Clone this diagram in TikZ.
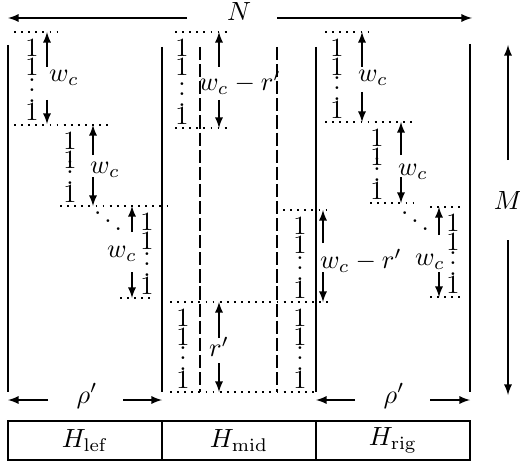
\documentclass[tikz,border=0pt]{standalone}
\usepackage{amsmath,amssymb}
\usepackage{tikz}
\usetikzlibrary{calc, positioning, arrows}
\newcommand{\onescol}[4]{%
  \node[digit] (#1a) at (#2,#3+16) {$1$};
  \node[digit] (#1b) at (#2,#3+35) {$1$};
  \node[digit,anchor=south] (#1c) at (#2,#4-21) {$\vdots$};
  \node[digit] (#1d) at (#2,#4-12) {$1$};
}
\newcommand{\dimarr}[8]{%
  \coordinate (#1t) at (#2,#3);
  \coordinate (#1u) at (#2,#4);
  \coordinate (#1d) at (#2,#5);
  \coordinate (#1b) at (#2,#6);
  \draw[dim] (#1u) -- (#1t);
  \draw[dim] (#1d) -- (#1b);
  \node (#1) at (#7) {#8};
}

\begin{document}
\begin{tikzpicture}[x=0.38pt, y=-0.38pt,
  digit/.style={inner sep=0pt},
  dim/.style={-latex},
  dotline/.style={dash pattern=on 0.7pt off 2pt},
  dashline/.style={dash pattern=on 5pt off 1.5pt},
  cell/.style={draw, minimum width=58.52pt, minimum height=14.82pt, inner sep=0pt, outer sep=0pt}]
  \useasboundingbox (0,0) rectangle (520,465);

  % sizes N and M
  \node (N) at (239,12) {$N$};
  \coordinate (Na) at (187,18); \coordinate (Nl) at (8,18);
  \coordinate (Nb) at (277,18); \coordinate (Nr) at (472,18);
  \draw[dim] (Na) -- (Nl);
  \draw[dim] (Nb) -- (Nr);
  \node (M) at (508,201) {$M$};
  \coordinate (Ma) at (508,160); \coordinate (Mt) at (508,45);
  \coordinate (Mb) at (508,240); \coordinate (Md) at (508,395);
  \draw[dim] (Ma) -- (Mt);
  \draw[dim] (Mb) -- (Md);

  % borders of the three parts
  \draw (8,45) -- (8,392) (162,47) -- (162,392) (316,47) -- (316,392) (470,44) -- (470,392);
  \draw[dashline] (200,47) -- (200,392) (277,47) -- (277,392);

  % left part
  \draw[dotline] (14,32) -- (57,32) (14,125) -- (113,125) (60,206) -- (173,206) (120,298) -- (155,298);
  \onescol{l1}{32}{32}{124}
  \onescol{l2}{70}{125}{206}
  \onescol{l3}{147}{206}{298}
  \dimarr{wl1}{47}{32}{67}{100}{124}{64,78}{$w_c$}
  \dimarr{wl2}{93}{125}{155}{177}{206}{105,170}{$w_c$}
  \dimarr{wl3}{132}{206}{232}{272}{298}{122,254}{$w_c$}
  \node[digit,anchor=base] (ddl) at (108,233) {$\ddots$};

  % middle part
  \draw[dotline] (175,32) -- (230,32) (175,128) -- (230,128) (283,210) -- (330,210) (170,302) -- (330,302) (170,392) -- (316,392);
  \onescol{m1}{182}{32}{128}
  \onescol{m2}{183}{302}{392}
  \onescol{m3}{300}{210}{302}
  \onescol{m4}{300}{302}{392}
  \dimarr{wm1}{219}{32}{67}{100}{128}{240,83}{$w_c-r'$}
  \dimarr{rm}{219}{302}{338}{363}{392}{219,347}{$r'$}
  \dimarr{wm2}{323}{210}{243}{272}{302}{361,261}{$w_c-r'$}

  % right part
  \draw[dotline] (325,32) -- (368,32) (325,122) -- (413,122) (370,203) -- (413,203) (430,207) -- (465,207) (430,297) -- (465,297);
  \onescol{r1}{337}{32}{122}
  \onescol{r2}{377}{122}{203}
  \onescol{r3}{453}{207}{297}
  \dimarr{wr1}{362}{32}{67}{92}{122}{373,78}{$w_c$}
  \dimarr{wr2}{401}{122}{155}{177}{203}{413,172}{$w_c$}
  \dimarr{wr3}{439}{207}{235}{272}{297}{430,262}{$w_c$}
  \node[digit,anchor=base] (ddr) at (415,233) {$\ddots$};

  % widths rho'
  \node (rhol) at (87,396) {$\rho'$};
  \coordinate (la) at (48,400); \coordinate (ll) at (8,400);
  \coordinate (lb) at (123,400); \coordinate (lr) at (162,400);
  \draw[dim] (la) -- (ll);
  \draw[dim] (lb) -- (lr);
  \node (rhor) at (394,396) {$\rho'$};
  \coordinate (ra) at (355,400); \coordinate (rl) at (316,400);
  \coordinate (rb) at (430,400); \coordinate (rr) at (470,400);
  \draw[dim] (ra) -- (rl);
  \draw[dim] (rb) -- (rr);

  % the three blocks
  \node[cell] (hlef) at (85,440.5) {$H_{\mathrm{lef}}$};
  \node[cell, right=0pt of hlef] (hmid) {$H_{\mathrm{mid}}$};
  \node[cell, right=0pt of hmid] (hrig) {$H_{\mathrm{rig}}$};
\end{tikzpicture}
\end{document}
